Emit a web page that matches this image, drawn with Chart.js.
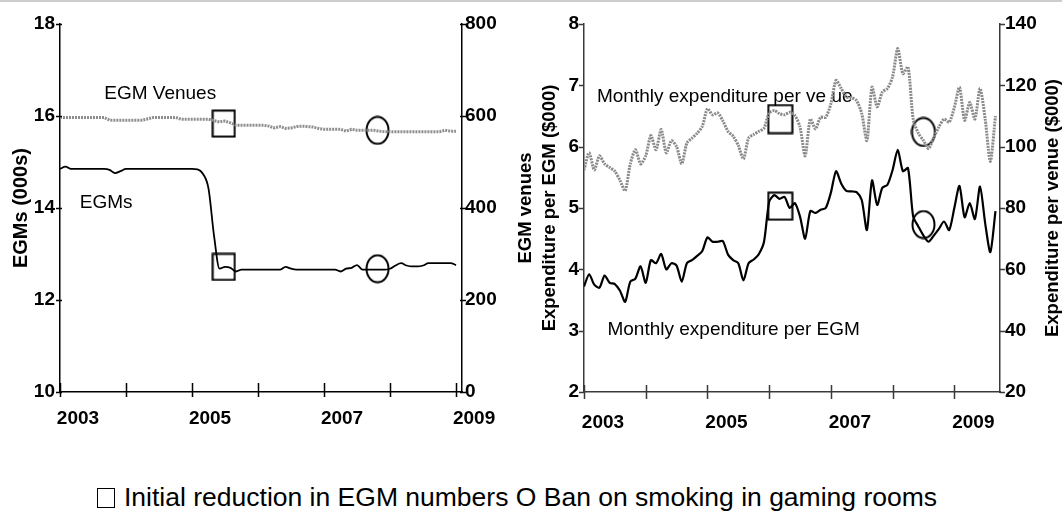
<!DOCTYPE html>
<html>
<head>
<meta charset="utf-8">
<script src="https://cdn.jsdelivr.net/npm/chart.js@4.4.0/dist/chart.umd.min.js"></script>
<style>
  body { margin: 0; background: #fff; width: 1062px; height: 513px; overflow: hidden; position: relative;
         font-family: "Liberation Sans", Arial, sans-serif; }
  .topline { position: absolute; left: 0; top: 0; width: 1062px; height: 2px; background: #cdcdcd; }
  #leftBox { position: absolute; left: 0; top: 0; }
  #rightBox { position: absolute; left: 505px; top: 0; }
  #legend { position: absolute; left: 97px; top: 482px; font-size: 26.5px; white-space: nowrap; color: #000; line-height: 30px; }
  .box { display: inline-block; width: 16px; height: 18px; border: 1.5px solid #000; vertical-align: -2px; margin-right: 9px; }
</style>
</head>
<body>
<div class="topline"></div>
<canvas id="leftBox" width="505" height="440"></canvas>
<canvas id="rightBox" width="557" height="440"></canvas>
<div id="legend"><span class="box"></span>Initial reduction in EGM numbers O Ban on smoking in gaming rooms</div>

<script>
const startYear = 2003;
const yearTicks = [2003, 2004, 2005, 2006, 2007, 2008, 2009];

// left panel, monthly from Jan 2003
const egmThousands = [
  14.85, 14.9, 14.85, 14.85, 14.85, 14.85, 14.85, 14.85, 14.85, 14.83, 14.76, 14.8,
  14.85, 14.85, 14.85, 14.85, 14.85, 14.85, 14.85, 14.85, 14.85, 14.85, 14.85, 14.85,
  14.85, 14.84, 14.74, 14.42, 13.4, 12.68, 12.72, 12.7, 12.62, 12.66, 12.66, 12.66,
  12.66, 12.66, 12.66, 12.66, 12.66, 12.72, 12.68, 12.66, 12.66, 12.66, 12.66, 12.66,
  12.66, 12.66, 12.66, 12.62, 12.68, 12.7, 12.76, 12.66, 12.66, 12.66, 12.66, 12.66,
  12.68, 12.75, 12.8, 12.75, 12.73, 12.73, 12.75, 12.8, 12.8, 12.8, 12.8, 12.8,
  12.76
];
const egmVenues = [
  597, 597, 597, 597, 597, 597, 597, 597, 597, 591, 591, 591,
  591, 591, 591, 591, 594, 597, 597, 597, 597, 597, 593, 593,
  593, 593, 593, 593, 590, 587, 589, 585, 580, 580, 580, 580,
  580, 580, 578, 574, 577, 573, 574, 577, 578, 577, 576, 573,
  571, 571, 571, 571, 567, 571, 569, 569, 569, 569, 567, 566,
  566, 566, 566, 566, 566, 566, 566, 566, 566, 566, 569, 567,
  567
];

// right panel, monthly from Jan 2003
const perEgm = [
  3.72, 3.92, 3.75, 3.70, 3.90, 3.78, 3.76, 3.65, 3.47, 3.80, 3.85, 4.05,
  3.78, 4.15, 4.10, 4.25, 4.00, 4.10, 4.06, 3.80, 4.10, 4.15, 4.22, 4.30,
  4.52, 4.45, 4.45, 4.46, 4.24, 4.15, 4.10, 3.82, 4.10, 4.16, 4.25, 4.45,
  5.10, 5.21, 5.15, 5.18, 5.00, 5.08, 4.86, 4.50, 4.95, 4.92, 4.97, 5.00,
  5.25, 5.60, 5.40, 5.28, 5.27, 5.26, 5.13, 4.64, 5.45, 5.05, 5.33, 5.38,
  5.62, 5.95, 5.60, 5.65, 4.86, 4.70, 4.55, 4.45, 4.55, 4.66, 4.78, 4.64,
  5.00, 5.36, 4.85, 5.08, 4.82, 5.35, 4.75, 4.28, 4.95
];
const perVenue = [
  92.4, 98, 92.4, 97, 94.4, 93.2, 92, 89, 85.6, 94.4, 99, 94.4,
  97, 103.6, 99, 105.6, 98, 102, 100, 94.4, 101.2, 102.8, 104.4, 106.6,
  112.4, 110.4, 111, 108.4, 105, 103.4, 100.4, 96, 102.8, 104, 105, 106,
  111, 111.8, 110.8, 110.4, 111.2, 110.2, 106.4, 97, 109, 105.8, 109.6, 109.6,
  114, 121.6, 119, 116.2, 116, 115, 110.8, 102, 119.4, 113, 117.8, 119,
  122.8, 132, 123.8, 126, 109, 104.4, 102, 99.4, 103, 106.4, 109, 108,
  112.8, 119.4, 108.6, 114.4, 109, 119, 109, 95.2, 110
];

// squares = initial reduction, circles = smoking ban
const leftMarkYears = [2005.48, 2007.81];
const leftMarkVenues = [583.5, 568.8];
const leftMarkEgms = [12.72, 12.68];
const rightMarkYears = [2006.18, 2008.5];
const rightMarkVenues = [109, 104.8];
const rightMarkEgms = [5.03, 4.73];

function monthly(values) {
  return values.map((v, i) => ({ x: startYear + i / 12, y: v }));
}
function pair(xs, ys) {
  return xs.map((x, i) => ({ x: x, y: ys[i] }));
}

function boxImg(w, h) {
  const c = document.createElement('canvas');
  c.width = w + 3; c.height = h + 3;
  const g = c.getContext('2d');
  g.lineWidth = 2; g.strokeStyle = '#000';
  g.strokeRect(1.5, 1.5, w, h);
  return c;
}
function ringImg(w, h) {
  const c = document.createElement('canvas');
  c.width = w + 3; c.height = h + 3;
  const g = c.getContext('2d');
  g.lineWidth = 2; g.strokeStyle = '#000';
  g.beginPath();
  g.ellipse(c.width / 2, c.height / 2, w / 2, h / 2, 0, 0, Math.PI * 2);
  g.stroke();
  return c;
}

const fam = '"Liberation Sans", Arial, sans-serif';
const tickFont = { family: fam, size: 19, weight: 'bold' };

function marks(xs, ys, axis, style) {
  return {
    data: pair(xs, ys), yAxisID: axis, showLine: false,
    pointStyle: [style[0], style[1]], pointRadius: 12, pointHoverRadius: 12
  };
}

// crossing tick marks and in-plot text
const decor = {
  id: 'decor',
  beforeDatasetsDraw(chart, args, o) {
    const ctx = chart.ctx;
    ctx.save();
    ctx.fillStyle = '#000';
    ctx.textAlign = 'left';
    ctx.textBaseline = 'alphabetic';
    ctx.font = '19px ' + fam;
    (o.notes || []).forEach(n => {
      const px = chart.scales.x.getPixelForValue(n.x);
      const py = chart.scales[n.axis].getPixelForValue(n.y);
      ctx.fillText(n.text, px, py);
    });
    ctx.restore();
  },
  afterDraw(chart, args, o) {
    const ctx = chart.ctx;
    const a = chart.chartArea;
    ctx.save();
    ctx.strokeStyle = o.color;
    ctx.lineWidth = 1.5;
    ctx.beginPath();
    yearTicks.forEach(t => {
      const px = Math.round(chart.scales.x.getPixelForValue(t)) + 0.5;
      ctx.moveTo(px, a.bottom - o.xUp);
      ctx.lineTo(px, a.bottom + o.xDown);
    });
    ['yL', 'yR'].forEach(id => {
      const s = chart.scales[id];
      s.ticks.forEach(t => {
        const py = Math.round(s.getPixelForValue(t.value)) + 0.5;
        if (id === 'yL') { ctx.moveTo(a.left - o.yOut, py); ctx.lineTo(a.left + o.yIn, py); }
        else { ctx.moveTo(a.right - o.yIn, py); ctx.lineTo(a.right + o.yOut, py); }
      });
    });
    ctx.stroke();
    if (o.rightTitle) {
      ctx.fillStyle = '#000';
      ctx.font = 'bold 18.5px ' + fam;
      ctx.textAlign = 'center';
      ctx.textBaseline = 'middle';
      ctx.translate(o.rightTitleX, (a.top + a.bottom) / 2);
      ctx.rotate(-Math.PI / 2);
      ctx.fillText(o.rightTitle, 0, 0);
    }
    ctx.restore();
  }
};

function xAxis(max, pad, off, color) {
  return {
    type: 'linear', min: startYear, max: max,
    afterBuildTicks: s => { s.ticks = yearTicks.map(v => ({ value: v })); },
    afterFit: s => { s.height = 48; },
    grid: { display: false, drawTicks: false },
    border: { display: true, color: color, width: 1.5 },
    ticks: {
      autoSkip: false, maxRotation: 0, padding: pad, labelOffset: off, color: '#000', font: tickFont,
      callback: v => (v % 2 === 1 ? String(v) : '')
    }
  };
}
function yAxis(pos, min, max, step, width, pad, color, title) {
  return {
    position: pos, min: min, max: max,
    afterFit: s => { s.width = width; },
    grid: { display: false, drawTicks: false },
    border: { display: true, color: color, width: 1.5 },
    ticks: { stepSize: step, padding: pad, color: '#000', font: tickFont, callback: v => String(v) },
    title: title
  };
}

new Chart(document.getElementById('leftBox'), {
  type: 'line',
  data: {
    datasets: [
      { data: monthly(egmVenues), yAxisID: 'yR', borderColor: '#8e8e8e', borderWidth: 3, borderDash: [2, 1],
        pointRadius: 0, tension: 0 },
      { data: monthly(egmThousands), yAxisID: 'yL', borderColor: '#000', borderWidth: 1.8,
        pointRadius: 0, cubicInterpolationMode: 'monotone' },
      marks(leftMarkYears, leftMarkVenues, 'yR', [boxImg(22, 26), ringImg(22, 27)]),
      marks(leftMarkYears, leftMarkEgms, 'yL', [boxImg(22, 26), ringImg(22, 27)])
    ]
  },
  options: {
    responsive: false, animation: false, events: [],
    layout: { padding: { top: 24, left: 0, right: 0, bottom: 0 } },
    plugins: {
      legend: { display: false }, tooltip: { enabled: false },
      decor: {
        color: '#000', xUp: 9, xDown: 5, yIn: 2, yOut: 4,
        notes: [
          { text: 'EGM Venues', x: 2003.67, y: 16.36, axis: 'yL' },
          { text: 'EGMs', x: 2003.3, y: 14.0, axis: 'yL' }
        ]
      }
    },
    scales: {
      x: xAxis(2009.09, 15, 18, '#000'),
      yL: yAxis('left', 10, 18, 2, 60, 5, '#000',
        { display: true, text: 'EGMs (000s)', color: '#000',
          font: { family: fam, size: 20, weight: 'bold' }, padding: { top: 9, bottom: 0 } }),
      yR: yAxis('right', 0, 800, 200, 43, 3, '#000', { display: false })
    }
  },
  plugins: [decor]
});

new Chart(document.getElementById('rightBox'), {
  type: 'line',
  data: {
    datasets: [
      { data: monthly(perVenue), yAxisID: 'yR', borderColor: '#8a8a8a', borderWidth: 3, borderDash: [2, 1],
        pointRadius: 0, tension: 0.25 },
      { data: monthly(perEgm), yAxisID: 'yL', borderColor: '#000', borderWidth: 2.2,
        pointRadius: 0, tension: 0.25 },
      marks(rightMarkYears, rightMarkVenues, 'yR', [boxImg(24, 28), ringImg(23, 28)]),
      marks(rightMarkYears, rightMarkEgms, 'yL', [boxImg(24, 27), ringImg(22, 27)])
    ]
  },
  options: {
    responsive: false, animation: false, events: [],
    layout: { padding: { top: 24, left: 0, right: 0, bottom: 0 } },
    plugins: {
      legend: { display: false }, tooltip: { enabled: false },
      decor: {
        color: '#3a3a3a', xUp: 7, xDown: 7, yIn: 0, yOut: 5,
        rightTitle: 'Expenditure per venue ($000)', rightTitleX: 548,
        notes: [
          { text: 'Monthly expenditure per ve ue', x: 2003.21, y: 6.73, axis: 'yL' },
          { text: 'Monthly expenditure per EGM', x: 2003.38, y: 2.93, axis: 'yL' }
        ]
      }
    },
    scales: {
      x: xAxis(2009.74, 19, 19, '#3a3a3a'),
      yL: yAxis('left', 2, 8, 1, 79, 5, '#3a3a3a',
        { display: true, text: ['EGM venues', 'Expenditure per EGM ($000)'], color: '#000',
          font: { family: fam, size: 18.5, weight: 'bold', lineHeight: 1.3 }, padding: { top: 9, bottom: 0 } }),
      yR: yAxis('right', 20, 140, 20, 62, 5, '#3a3a3a', { display: false })
    }
  },
  plugins: [decor]
});
</script>
</body>
</html>
